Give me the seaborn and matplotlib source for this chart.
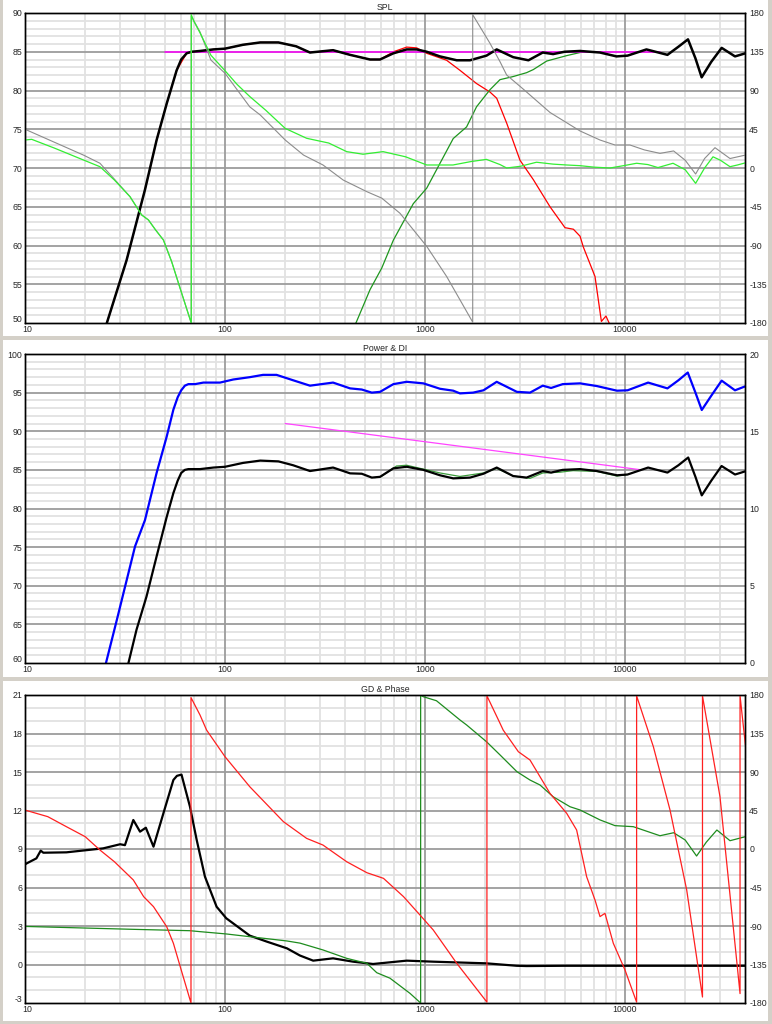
import matplotlib.pyplot as plt
import seaborn as sns
from matplotlib.patches import Rectangle
from matplotlib.ticker import NullFormatter
from matplotlib.transforms import ScaledTranslation

# ---------------- SPL panel ----------------
spl_freq = [24.0, 25.8, 32.2, 39.8, 45.5, 51.1, 57.3, 60.4, 64.3, 68, 75, 87.5, 100, 123, 150, 185, 227,
            266, 347, 422, 531, 596, 695, 810, 909, 1020, 1188, 1441, 1679, 2030, 2283, 2760, 3290,
            3880, 4370, 4990, 5960, 7500, 9070, 10300, 12800, 16300, 18500, 20650, 22500, 24170,
            27000, 30430, 35480, 40000]
spl_total = [47.5, 50.2, 58.1, 67.2, 73.6, 78.3, 82.6, 84.0, 84.8, 85.0, 85.1, 85.3, 85.4, 85.9, 86.2,
             86.2, 85.7, 84.9, 85.2, 84.6, 84.0, 84.0, 84.8, 85.3, 85.3, 85.0, 84.4, 83.9, 83.9, 84.5,
             85.3, 84.3, 83.9, 84.9, 84.7, 85.0, 85.1, 84.9, 84.4, 84.5, 85.3, 84.6, 85.65, 86.6, 84.15,
             81.7, 83.7, 85.5, 84.4, 84.8]

woofer_freq = [24.0, 25.8, 32.2, 39.8, 45.5, 51.1, 57.3, 64.3, 75, 87.5, 100, 123, 150, 185, 227, 266,
               347, 422, 531, 596, 695, 810, 909, 1020, 1283, 1496, 1810, 2113, 2283, 2560, 2985,
               3480, 4217, 5010, 5520, 5960, 6190, 7080, 7620, 8030, 8500]
woofer_spl = [47.5, 50.2, 58.1, 67.2, 73.6, 78.3, 82.6, 84.8, 85.1, 85.3, 85.4, 85.9, 86.2, 86.2, 85.7,
              84.9, 85.2, 84.6, 84.0, 84.0, 85.0, 85.6, 85.5, 84.8, 83.9, 82.6, 80.9, 79.8, 79.0, 75.8,
              71.0, 68.5, 65.0, 62.3, 62.1, 61.2, 59.8, 56.0, 50.2, 50.9, 49.5]

tweeter_freq = [430, 455, 531, 608, 695, 874, 1020, 1188, 1384, 1614, 1810, 2113, 2371, 2760, 3220,
                3480, 4060, 5110, 5960, 6200]
tweeter_spl = [48.8, 50.2, 54.3, 57.1, 60.7, 65.4, 67.4, 70.6, 73.8, 75.3, 77.9, 80.1, 81.4, 81.8, 82.3,
               82.7, 83.8, 84.5, 84.9, 85.05]

target_freq = [50, 15000]
target_spl = [85, 85]

phase_a_freq = [10, 10.8, 14, 19.6, 23.7, 28, 33.5, 38.3, 41.4, 45, 49.2, 54.1, 60, 67.8, 67.8, 70, 75,
                85, 100, 115, 133, 160, 200, 256, 330, 406, 490, 617, 800, 1020, 1380, 1700, 2030,
                2371, 2560, 3000, 3610, 4370, 5110, 5960, 7000, 8410, 10000, 11430, 13000, 14620,
                17380, 20000, 22550, 25000, 27540, 30000, 33500, 36500, 40000]
phase_a_deg = [32.5, 33.3, 23.2, 9.3, 1.5, -14, -33.3, -54.5, -60.3, -72, -83.6, -108.7, -141.6, -180,
               178, 170, 157, 131, 113, 97, 83, 67, 46, 34.5, 29, 19, 16, 19, 13, 3.5, 3.5, 7.5, 10, 4,
               0, 2, 6.7, 4.5, 3.5, 2.7, 1, 0, 3, 5.5, 4, 0.5, 5.5, -2, -17.8, 0, 13, 9, 1.5, 3.5, 6]

phase_b_freq = [10, 14, 19.6, 23.7, 28, 33.5, 38.3, 41.4, 45, 49.2, 54.1, 60, 67.8, 67.8, 75, 85, 100,
                133, 150, 200, 247, 309, 390, 512, 608, 750, 1020, 1283, 1732, 1732, 2113, 2371,
                2560, 3100, 4217, 5960, 7500, 8913, 10590, 12500, 14960, 17500, 20000, 22550, 25000,
                28180, 33500, 40000]
phase_b_deg = [45, 30, 15, 5.5, -13, -33.3, -54.5, -60.3, -72, -83.6, -108.7, -141.6, -180, 176.5,
               158, 125.4, 110, 71, 61.6, 32.5, 15, 3.5, -14, -27.5, -35, -52.6, -91, -126, -179,
               178, 144.8, 123.5, 108, 91.6, 64.5, 43, 32.5, 26.7, 26.7, 21, 17, 19.8, 9, -7, 11,
               23.6, 11, 15]

# ---------------- Power & DI panel ----------------
power_freq = [25.4, 28.8, 35.5, 39.8, 45.5, 51.1, 55.2, 58, 60.4, 63, 65.6, 70.8, 78, 94.4, 110, 133,
              155, 181, 219, 266, 347, 422, 483, 542, 596, 695, 810, 981, 1188, 1384, 1496, 1740, 1960,
              2283, 2880, 3350, 3880, 4270, 4880, 5960, 7230, 9120, 10300, 13050, 16300, 18500, 20600,
              22500, 24200, 27000, 30430, 35480, 39800]
power_db = [60, 65.6, 75.1, 78.5, 84.6, 89.3, 92.8, 94.4, 95.3, 95.9, 96.1, 96.1, 96.3, 96.3, 96.7,
            97.0, 97.3, 97.3, 96.6, 95.9, 96.3, 95.55, 95.4, 95.0, 95.1, 96.1, 96.4, 96.2, 95.5, 95.25,
            94.9, 95.0, 95.3, 96.4, 95.1, 95.0, 95.9, 95.6, 96.1, 96.2, 95.85, 95.25, 95.3, 96.3,
            95.55, 96.6, 97.6, 95.0, 92.75, 94.6, 96.55, 95.3, 95.8]

lw_freq = [32.9, 36.1, 40.5, 45.5, 51.1, 55.2, 58, 60.4, 63, 65.6, 75, 87.5, 100, 123, 150, 185, 219,
           266, 347, 422, 483, 542, 596, 695, 810, 981, 1188, 1384, 1679, 1960, 2283, 2760, 3220, 3880,
           4270, 4880, 5960, 7230, 9120, 10300, 13050, 16300, 18500, 20700, 22500, 24200, 27000,
           30400, 35500, 39800]
lw_db = [60, 64.3, 68.6, 73.8, 78.9, 82, 83.6, 84.6, 85.0, 85.1, 85.1, 85.3, 85.4, 85.9, 86.2, 86.1,
         85.6, 84.85, 85.3, 84.55, 84.5, 84.0, 84.1, 85.2, 85.4, 85.0, 84.3, 83.9, 84.0, 84.5, 85.3,
         84.2, 84.0, 84.85, 84.65, 85.0, 85.1, 84.85, 84.3, 84.4, 85.3, 84.65, 85.6, 86.6, 84.1, 81.7,
         83.6, 85.5, 84.4, 84.8]

er_freq = [560, 600, 720, 810, 981, 1188, 1496, 1960, 2283, 2760, 3350, 3880, 4730, 5500, 7230, 9120,
           10300]
er_db = [84.0, 84.1, 85.5, 85.6, 85.1, 84.6, 84.15, 84.6, 85.2, 84.2, 83.9, 84.6, 84.7, 84.9, 84.8,
         84.2, 84.4]

slope_freq = [200, 12100]
slope_db = [91.0, 85.0]

# ---------------- GD & Phase panel ----------------
gd_freq = [10, 10.2, 11.4, 11.98, 12.35, 16.1, 24.6, 29.9, 31.6, 34.8, 37.6, 40.2, 43.9, 49.2, 55.2,
           57.5, 60.6, 63, 66.8, 72.2, 79.4, 90.8, 101.5, 133, 162, 204, 237, 276, 347, 437, 550, 810,
           1100, 2030, 2880, 3220, 5000, 10000, 40000]
gd_ms = [7.8, 7.88, 8.27, 8.87, 8.71, 8.74, 9.05, 9.37, 9.3, 11.26, 10.35, 10.66, 9.18, 11.78, 14.38,
         14.7, 14.8, 13.8, 12.3, 9.7, 6.84, 4.5, 3.6, 2.25, 1.78, 1.26, 0.7, 0.3, 0.48, 0.22, 0.04, 0.3,
         0.22, 0.09, -0.1, -0.12, -0.1, -0.1, -0.1]

ph_green_freq = [10, 34.8, 66.8, 75, 101.5, 133, 204, 237, 309, 406, 512, 574, 668, 841, 951, 951, 981,
                 1141, 1496, 1614, 2030, 2371, 2880, 3350, 3760, 4370, 5310, 5960, 7500, 8910, 11000,
                 14960, 17500, 20000, 22800, 25500, 28800, 33500, 40000]
ph_green_deg = [-90.5, -93.9, -95.5, -96.6, -99.3, -102.5, -107.5, -110, -118, -127.8, -133.6, -144.6,
                -151, -168.7, -180, 180, 178, 173.3, 150.8, 145, 125.4, 110, 90.4, 80.6, 74.8, 61.1,
                49.4, 45.6, 34, 27.3, 26.1, 15.5, 19, 10.5, -8.2, 8, 22.2, 9.7, 14.4]

ph_red_freq = [10, 13, 16.1, 20, 23.7, 28, 34.8, 39.2, 43.9, 51.1, 55.2, 60.4, 67.6, 67.6, 75, 80.9,
               100, 133, 196, 256, 309, 406, 512, 620, 781, 944, 1100, 1441, 2040, 2040, 2371, 2460,
               2930, 3350, 4217, 5110, 5730, 6430, 7080, 7500, 7940, 8740, 10000, 11430, 11430, 13860,
               16790, 20350, 24400, 24400, 29850, 37600, 37600, 40000]
ph_red_deg = [45.5, 37.8, 26.1, 14.4, -1.2, -14.9, -36.2, -55.7, -67.4, -90.8, -110.2, -141.4, -180,
              177, 156.6, 139, 107.9, 72.8, 31.9, 12.4, 4.6, -14.9, -27.7, -34.3, -55.7, -77.2, -94.7,
              -133.6, -179, 179, 147, 139, 113.7, 104, 65, 41.7, 22.2, -32.4, -59.6, -79, -75.2,
              -110.2, -141.4, -179, 179, 119.6, 45.6, -48, -173, 179, 61.1, -169, 179, 121.6]

x_major = [10, 100, 1000, 10000]
x_major_labels = ["10", "100", "1000", "10000"]
x_minor = [m * d for d in (10, 100, 1000, 10000) for m in range(2, 10) if m * d < 40000]

BG = "#d4d0c8"
FONT = 6.3
MINOR_GRID = "#e2e2e2"
MAJOR_GRID = "#9c9c9c"


def draw(ax, x, y, color, lw):
    sns.lineplot(x=x, y=y, ax=ax, color=color, linewidth=lw, estimator=None, sort=False)


def nudge(label, dx_px, dy_px):
    label.set_transform(label.get_transform()
                        + ScaledTranslation(dx_px / 100, dy_px / 100, fig.dpi_scale_trans))


def setup_panel(ax, ax2, title, left_lim, left_step, right_lim, right_ticks):
    ax.set_xscale("log")
    ax.set_xlim(10, 39810)
    ax.set_xticks(x_major)
    ax.set_xticklabels(x_major_labels)
    ax.set_xticks(x_minor, minor=True)
    ax.xaxis.set_minor_formatter(NullFormatter())

    lo, hi = left_lim
    ax.set_ylim(lo, hi)
    y_major = list(range(lo, hi + 1, left_step))
    y_minor = [v for v in range(lo, hi + 1) if v not in y_major]
    ax.set_yticks(y_major)

    # grid drawn by hand so the dark lines sit over the light ones
    for v in x_minor:
        ax.axvline(v, color=MINOR_GRID, linewidth=1.3, zorder=0.2)
    for v in y_minor:
        ax.axhline(v, color=MINOR_GRID, linewidth=1.3, zorder=0.2)
    for v in x_major[1:]:
        ax.axvline(v, color=MAJOR_GRID, linewidth=1.3, zorder=0.3)
    for v in y_major[1:-1]:
        ax.axhline(v, color=MAJOR_GRID, linewidth=1.3, zorder=0.3)
    ax.grid(False)
    ax.tick_params(which="both", length=0, labelsize=FONT, pad=2)
    ax.tick_params(axis="x", pad=1.5)

    ax2.set_ylim(*right_lim)
    ax2.set_yticks(right_ticks)
    ax2.tick_params(which="both", length=0, labelsize=FONT, pad=3)
    ax2.grid(False)

    for a in (ax, ax2):
        a.set_xlabel("")
        a.set_ylabel("")
        for s in a.spines.values():
            s.set_color("black")
            s.set_linewidth(1.0)
    ax.set_title(title, fontsize=FONT, pad=2.5)

    # lowest left label sits a little high, first frequency label a little right
    nudge(ax.get_yticklabels()[0], 0, 4)
    nudge(ax.get_xticklabels()[0], 2.5, 0)


sns.set_theme(style="white")
plt.rcParams["font.family"] = ["Liberation Sans", "DejaVu Sans"]
plt.rcParams["axes.unicode_minus"] = False

fig = plt.figure(figsize=(7.72, 10.24), dpi=100, facecolor=BG)
W, H = 772, 1024

# white panel backgrounds, kept behind the axes
for top, bottom in [(0, 336), (340, 677), (681, 1021)]:
    fig.patches.append(Rectangle((3 / W, 1 - bottom / H), 765 / W, (bottom - top) / H,
                                 transform=fig.transFigure, facecolor="white", edgecolor="none",
                                 zorder=-5))


def make_axes(top, bottom):
    ax = fig.add_axes([25 / W, 1 - bottom / H, 720 / W, (bottom - top) / H])
    ax2 = ax.twinx()
    return ax, ax2


# SPL
ax1, ax1r = make_axes(13, 323)
ax1.set_xscale("log")
draw(ax1, woofer_freq, woofer_spl, "#ff0000", 0.9)
draw(ax1, tweeter_freq, tweeter_spl, "#1e961e", 0.9)
draw(ax1, target_freq, target_spl, "#ff00ff", 1.1)
draw(ax1, spl_freq, spl_total, "black", 1.8)
draw(ax1r, phase_b_freq, phase_b_deg, "#8c8c8c", 0.8)
draw(ax1r, phase_a_freq, phase_a_deg, "#33ee33", 0.9)
setup_panel(ax1, ax1r, "SPL", (50, 90), 5, (-180, 180), list(range(-180, 181, 45)))

# Power & DI
ax2, ax2r = make_axes(354, 663)
ax2.set_xscale("log")
draw(ax2, slope_freq, slope_db, "#ff44ff", 0.9)
draw(ax2, power_freq, power_db, "#0000ff", 1.6)
draw(ax2, er_freq, er_db, "#3c9c3c", 0.9)
draw(ax2, lw_freq, lw_db, "black", 1.6)
setup_panel(ax2, ax2r, "Power & DI", (60, 100), 5, (0, 20), [0, 5, 10, 15, 20])

# GD & Phase
ax3, ax3r = make_axes(695, 1003)
ax3.set_xscale("log")
draw(ax3, gd_freq, gd_ms, "black", 1.6)
draw(ax3r, ph_green_freq, ph_green_deg, "#1e8c1e", 0.9)
draw(ax3r, ph_red_freq, ph_red_deg, "#ff2020", 0.9)
setup_panel(ax3, ax3r, "GD & Phase", (-3, 21), 3, (-180, 180), list(range(-180, 181, 45)))

fig.savefig("out.png", dpi=100, facecolor=BG)
